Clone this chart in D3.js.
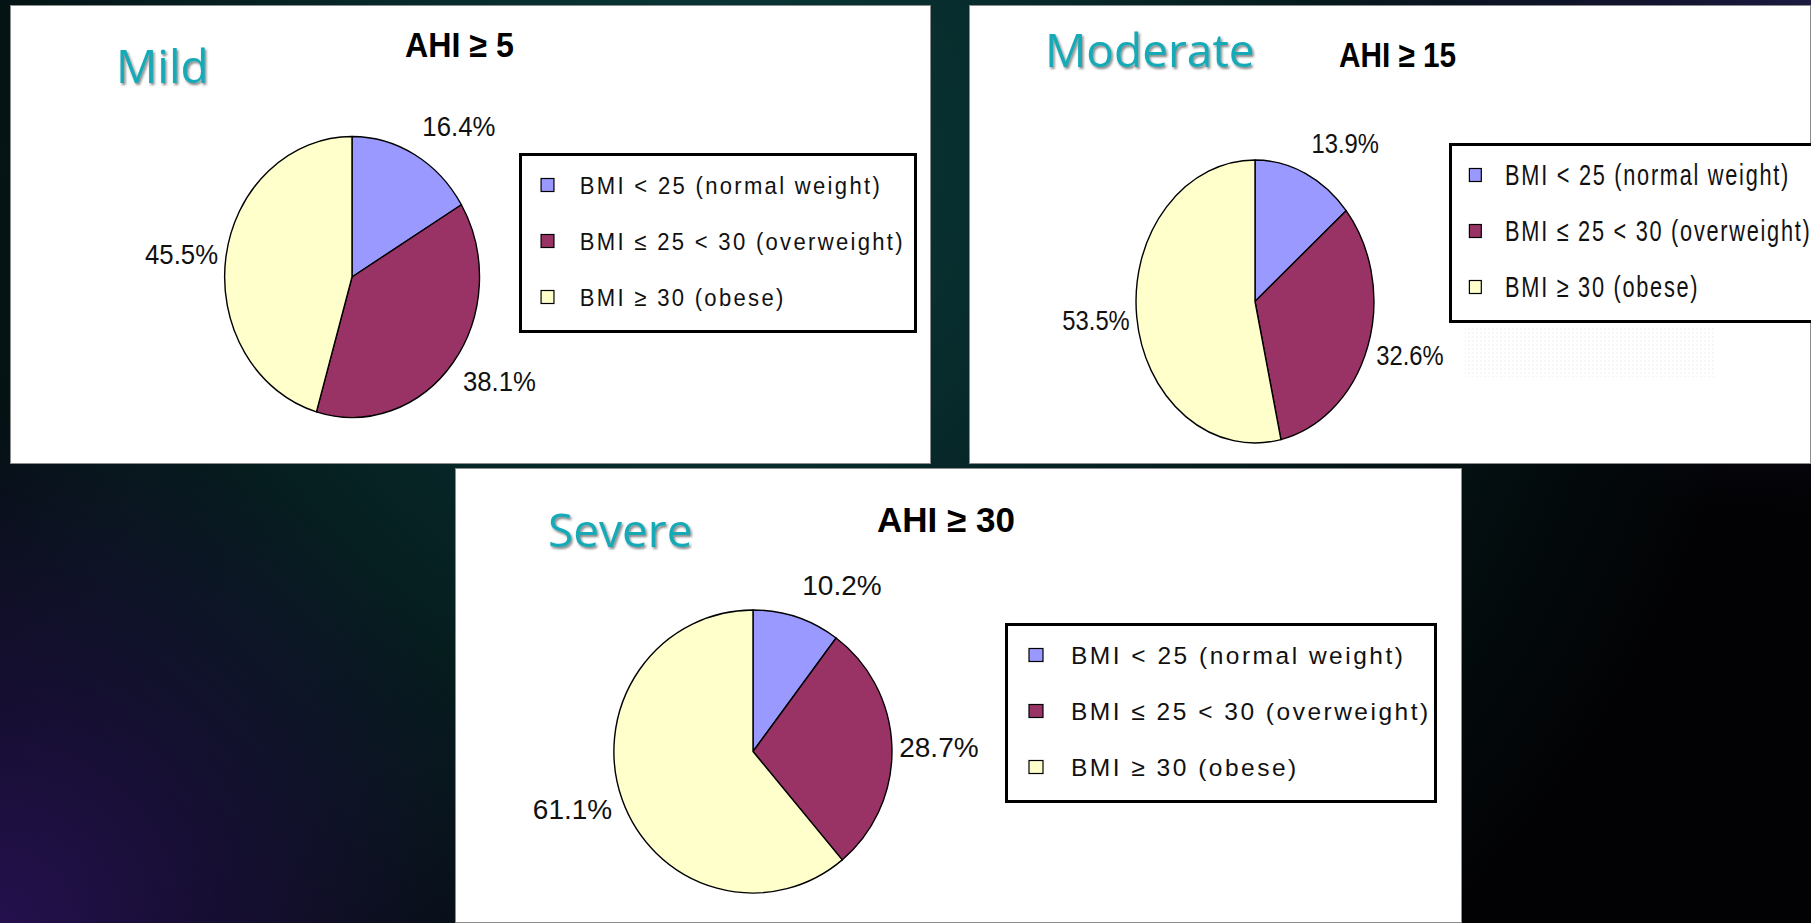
<!DOCTYPE html>
<html>
<head>
<meta charset="utf-8">
<script src="https://cdn.jsdelivr.net/npm/d3@7"></script>
<style>
  html, body { margin: 0; padding: 0; background: #000; overflow: hidden; }
  svg { display: block; }
</style>
</head>
<body>
<svg id="slide" width="1811" height="923"></svg>
<script>
// ---- data ----
const categories = [
  "BMI < 25 (normal weight)",
  "BMI \u2264 25 < 30 (overweight)",
  "BMI \u2265 30 (obese)"
];
const sliceColors = ["#9999ff", "#993366", "#ffffcc"];
const groupNames = ["Mild", "Moderate", "Severe"];
const ahiLabels = ["AHI \u2265 5", "AHI \u2265 15", "AHI \u2265 30"];
const mildValues = [16.4, 38.1, 45.5];
const moderateValues = [13.9, 32.6, 53.5];
const severeValues = [10.2, 28.7, 61.1];
const seriesValues = [mildValues, moderateValues, severeValues];

// ---- layout of the three chart cards ----
const W = 1811, H = 923;
const cards = [
  { box: [10, 5, 921, 459],  title: [116, 83],  ahi: [405, 57],
    pie: { cx: 352, cy: 277, rx: 127.5, ry: 140.5 }, kx: 0.92,
    legend: [519, 153, 398], legendFont: { size: 24, spacing: 2.5, kx: 0.92 } },
  { box: [969, 5, 842, 459], title: [1045, 67], ahi: [1339, 67],
    pie: { cx: 1255, cy: 301.5, rx: 119, ry: 141.5 }, kx: 0.85,
    legend: [1449, 143, 367], legendFont: { size: 29, spacing: 2.3, kx: 0.75 },
    haze: [1465, 327, 250, 50] },
  { box: [455, 468, 1007, 455], title: [548, 547], ahi: [877, 532],
    pie: { cx: 753, cy: 751.5, rx: 139, ry: 141.5 }, kx: 1.0,
    legend: [1005, 623, 432], legendFont: { size: 24.5, spacing: 2.5, kx: 1.0 } }
];

const svg = d3.select("#slide");
const defs = svg.append("defs");

// ---- slide background: black with teal and violet glows ----
svg.append("rect").attr("width", W).attr("height", H).attr("fill", "#020204");
const glows = [
  { id: "glowTeal",   cx: 720,  cy: 160, r: 1050, color: "#0a3c3c" },
  { id: "glowViolet", cx: 0,    cy: 923, r: 520,  color: "#24114e" },
  { id: "glowBlue",   cx: 1811, cy: 0,   r: 520,  color: "#1a1a40" }
];
glows.forEach(g => {
  const rg = defs.append("radialGradient").attr("id", g.id)
    .attr("gradientUnits", "userSpaceOnUse")
    .attr("cx", g.cx).attr("cy", g.cy).attr("r", g.r);
  rg.append("stop").attr("offset", 0).attr("stop-color", g.color).attr("stop-opacity", 1);
  rg.append("stop").attr("offset", 1).attr("stop-color", g.color).attr("stop-opacity", 0);
  svg.append("rect").attr("width", W).attr("height", H).attr("fill", `url(#${g.id})`);
});

// soft shadow behind the teal headings
const shadow = defs.append("filter").attr("id", "titleShadow")
  .attr("x", "-10%").attr("y", "-20%").attr("width", "130%").attr("height", "150%");
shadow.append("feDropShadow").attr("dx", 1.5).attr("dy", 2).attr("stdDeviation", 1.2)
  .attr("flood-color", "#202020").attr("flood-opacity", 0.55);

// faint dotted texture
const dots = defs.append("pattern").attr("id", "dots")
  .attr("patternUnits", "userSpaceOnUse").attr("width", 4).attr("height", 4);
dots.append("rect").attr("width", 2).attr("height", 2).attr("fill", "#e6e6e6");

const pie = d3.pie().sort(null).value(d => d);
const unitArc = d3.arc().innerRadius(0).outerRadius(1);
const pct = v => d3.format(".1f")(v) + "%";

cards.forEach((c, k) => {
  const g = svg.append("g");
  const [bx, by, bw, bh] = c.box;

  // white card
  g.append("rect").attr("x", bx + 0.5).attr("y", by + 0.5)
    .attr("width", bw - 1).attr("height", bh - 1)
    .attr("fill", "#ffffff").attr("stroke", "#8c8c8c").attr("stroke-width", 1);

  if (c.haze) {
    g.append("rect").attr("x", c.haze[0]).attr("y", c.haze[1])
      .attr("width", c.haze[2]).attr("height", c.haze[3])
      .attr("fill", "url(#dots)").attr("opacity", 0.35);
  }

  // teal severity heading
  g.append("text")
    .attr("x", c.title[0]).attr("y", c.title[1])
    .attr("font-family", "'Open Sans', 'Noto Sans', sans-serif")
    .attr("font-size", 46).attr("fill", "#19a9b6")
    .attr("filter", "url(#titleShadow)")
    .text(groupNames[k]);

  // AHI threshold title
  g.append("text")
    .attr("transform", `translate(${c.ahi[0]},${c.ahi[1]}) scale(${c.kx},1)`)
    .attr("font-family", "'Liberation Sans', Arial, sans-serif")
    .attr("font-weight", "bold").attr("font-size", 35).attr("fill", "#000")
    .text(ahiLabels[k]);

  // pie (unit circle stretched to the ellipse)
  const arcs = pie(seriesValues[k]);
  const p = c.pie;
  g.append("g")
    .attr("transform", `translate(${p.cx},${p.cy}) scale(${p.rx},${p.ry})`)
    .selectAll("path").data(arcs).join("path")
    .attr("d", unitArc)
    .attr("fill", (d, i) => sliceColors[i])
    .attr("stroke", "#000").attr("stroke-width", 1.4)
    .attr("vector-effect", "non-scaling-stroke")
    .attr("stroke-linejoin", "round");

  // percentage labels outside each slice
  g.append("g").selectAll("text").data(arcs).join("text")
    .attr("transform", d => {
      const a = (d.startAngle + d.endAngle) / 2;
      const s = Math.sin(a), co = Math.cos(a);
      const R = 1.05 + 0.08 * Math.abs(co);
      const px = p.cx + R * s * p.rx;
      const py = p.cy - R * co * p.ry;
      const base = py - 16 * co + 10;
      return `translate(${px},${base}) scale(${c.kx},1)`;
    })
    .attr("text-anchor", d => Math.sin((d.startAngle + d.endAngle) / 2) >= 0 ? "start" : "end")
    .attr("font-family", "'Liberation Sans', Arial, sans-serif")
    .attr("font-size", 28).attr("fill", "#111")
    .text(d => pct(d.data));

  // legend
  const [lx, ly, lw] = c.legend;
  const lf = c.legendFont;
  const lg = g.append("g");
  lg.append("rect").attr("x", lx + 1.5).attr("y", ly + 1.5)
    .attr("width", lw - 3).attr("height", 177)
    .attr("fill", "#fff").attr("stroke", "#000").attr("stroke-width", 3);
  const rows = lg.selectAll("g.row").data(categories).join("g").attr("class", "row");
  rows.append("rect")
    .attr("x", lx + 24 * c.kx)
    .attr("y", (d, i) => ly + 32 + i * 56 - 6.5)
    .attr("width", 14 * c.kx).attr("height", 13)
    .attr("fill", (d, i) => sliceColors[i])
    .attr("stroke", "#000").attr("stroke-width", 1.2);
  rows.append("text")
    .attr("transform", (d, i) =>
      `translate(${lx + 66 * c.kx},${ly + 32 + i * 56 + lf.size * 0.36}) scale(${lf.kx},1)`)
    .attr("font-family", "'Liberation Sans', Arial, sans-serif")
    .attr("font-size", lf.size).attr("letter-spacing", lf.spacing).attr("fill", "#111")
    .text(d => d);
});
</script>
</body>
</html>
